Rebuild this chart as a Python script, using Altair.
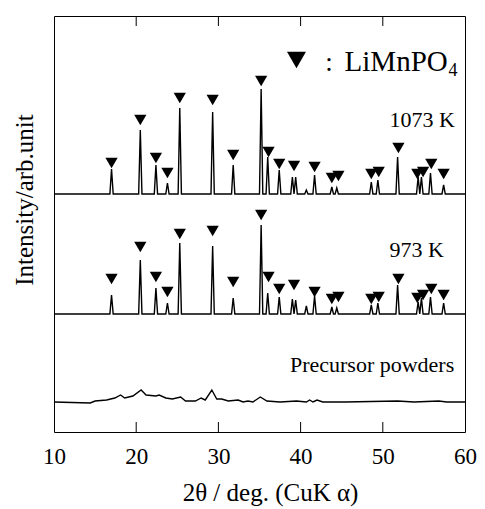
import altair as alt
import pandas as pd

# ---- data (intensity in arbitrary units) ----
x_ticks = [10, 20, 30, 40, 50, 60]
inner_ticks = [20, 30, 40, 50]

series_names = ["1073 K", "973 K", "Precursor powders"]
offsets = [238, 118, 30]

peak_pos = [17.0, 20.5, 22.4, 23.8, 25.3, 29.3, 31.8, 35.2, 36.0, 37.4, 39.0, 39.4,
            40.7, 41.7, 43.8, 44.4, 48.6, 49.4, 51.8, 54.3, 54.7, 55.8, 57.4]
h_1073 = [25, 64, 29, 11, 86, 82, 29, 105, 37, 24, 17, 17,
          4, 19, 7, 6, 12, 14, 37, 17, 17, 21, 9]
h_973 = [19, 54, 26, 11, 71, 68, 16, 89, 21, 17, 15, 14,
         8, 18, 7, 6, 9, 11, 29, 12, 16, 17, 11]

marker_pos = [17.0, 20.5, 22.4, 23.8, 25.3, 29.3, 31.8, 35.2, 36.1, 37.4, 39.2,
              41.7, 43.8, 44.6, 48.6, 49.5, 51.9, 54.2, 54.9, 55.9, 57.4]
m_1073 = [31, 74, 36, 21, 96, 94, 39, 113, 42, 30, 28,
          27, 16, 18, 20, 22, 46, 20, 22, 30, 20]
m_973 = [35, 67, 37, 22, 80, 83, 32, 99, 37, 25, 29,
         22, 15, 17, 15, 17, 35, 16, 19, 25, 19]

prec_x = [10.0, 14.4, 15.0, 16.4, 17.4, 18.1, 18.6, 19.6, 20.6, 21.2, 22.4, 22.8,
          23.6, 24.4, 25.4, 26.0, 27.2, 27.9, 28.4, 29.2, 29.8, 30.4, 31.2, 32.4,
          33.0, 33.6, 34.2, 35.1, 35.9, 37.5, 39.5, 40.7, 41.1, 41.5, 42.0, 42.7,
          45.4, 48.6, 51.8, 53.8, 56.8, 57.8, 60.0]
prec_h = [0, -1, 1, 2, 4, 7, 4, 6, 12, 7, 6, 7,
          4, 3, 5, 1, 1, 4, 2, 12, 3, 3, 1, 2,
          0, 1, 0, 5, 1, 0, 1, 0, 2, 0, 2, 0,
          0, 0.5, 1, 0, 1, 0, 0]

label_x = [50.8, 50.8, 38.7]
label_y = [305, 175, 60]

# ---- build tables ----
rows = []
for name, base, heights in [(series_names[0], offsets[0], h_1073),
                            (series_names[1], offsets[1], h_973)]:
    pts = [(10.0, 0.0), (60.0, 0.0)]
    for p, h in zip(peak_pos, heights):
        pts += [(p - 0.2, 0.0), (p, h), (p + 0.2, 0.0)]
    pts.sort()
    for i, (x, h) in enumerate(pts):
        rows.append({"series": name, "x": x, "y": base + h, "order": i})
for i, (x, h) in enumerate(zip(prec_x, prec_h)):
    rows.append({"series": series_names[2], "x": x, "y": offsets[2] + h, "order": i})
lines_df = pd.DataFrame(rows)

mrows = []
for base, levels in [(offsets[0], m_1073), (offsets[1], m_973)]:
    for x, m in zip(marker_pos, levels):
        mrows.append({"x": x, "y": base + m})
markers_df = pd.DataFrame(mrows)

labels_df = pd.DataFrame({"x": label_x, "y": label_y, "text": series_names})
ticks_df = pd.DataFrame({"x": inner_ticks})

FONT = "Liberation Serif"
xs = alt.Scale(domain=[10, 60], nice=False, zero=False)
ys = alt.Scale(domain=[0, 416], nice=False, zero=False)

lines = alt.Chart(lines_df).mark_line(color="black", strokeWidth=1.4, interpolate="linear").encode(
    x=alt.X("x:Q", scale=xs,
            axis=alt.Axis(values=x_ticks, title="2θ / deg. (CuK α)", grid=False,
                          ticks=False, tickSize=0, domain=False, labelFont=FONT,
                          labelFontSize=23, labelColor="black", labelPadding=13,
                          labelFlush=False, labelAlign="center",
                          titleFont=FONT, titleFontSize=25, titleFontWeight="normal",
                          titleColor="black", titleBaseline="alphabetic",
                          titleY=68, titleX=216, titleAlign="center")),
    y=alt.Y("y:Q", scale=ys, axis=None),
    detail="series:N",
    order="order:Q",
)

markers = alt.Chart(markers_df).mark_point(
    shape="triangle-down", filled=True, size=150, color="black", opacity=1
).encode(x=alt.X("x:Q", scale=xs), y=alt.Y("y:Q", scale=ys))

labels = alt.Chart(labels_df).mark_text(
    font=FONT, fontSize=22, align="left", baseline="alphabetic", color="black"
).encode(x=alt.X("x:Q", scale=xs), y=alt.Y("y:Q", scale=ys), text="text:N")

legend_sym = alt.Chart(pd.DataFrame({"x": [39.5], "y": [372]})).mark_point(
    shape="triangle-down", filled=True, size=360, color="black", opacity=1
).encode(x=alt.X("x:Q", scale=xs), y=alt.Y("y:Q", scale=ys))
legend_colon = alt.Chart(pd.DataFrame({"x": [43.0], "y": [361], "t": [":"]})).mark_text(
    font=FONT, fontSize=27, align="left", baseline="alphabetic", color="black"
).encode(x=alt.X("x:Q", scale=xs), y=alt.Y("y:Q", scale=ys), text="t:N")
legend_txt = alt.Chart(pd.DataFrame({"x": [57.9], "y": [361], "t": ["LiMnPO"]})).mark_text(
    font=FONT, fontSize=29, align="right", baseline="alphabetic", color="black"
).encode(x=alt.X("x:Q", scale=xs), y=alt.Y("y:Q", scale=ys), text="t:N")
legend_sub = alt.Chart(pd.DataFrame({"x": [58.0], "y": [356], "t": ["4"]})).mark_text(
    font=FONT, fontSize=18, align="left", baseline="alphabetic", color="black"
).encode(x=alt.X("x:Q", scale=xs), y=alt.Y("y:Q", scale=ys), text="t:N")

ticks_bottom = alt.Chart(ticks_df).mark_rule(color="black", strokeWidth=1).encode(
    x=alt.X("x:Q", scale=xs), y=alt.value(406), y2=alt.value(416))
ticks_top = alt.Chart(ticks_df).mark_rule(color="black", strokeWidth=1).encode(
    x=alt.X("x:Q", scale=xs), y=alt.value(0), y2=alt.value(10))

ytitle = alt.Chart(pd.DataFrame({"t": ["Intensity/arb.unit"]})).mark_text(
    font=FONT, fontSize=25, angle=270, align="center", baseline="middle", color="black"
).encode(x=alt.value(-29), y=alt.value(184), text="t:N")

chart = alt.layer(
    lines, markers, labels, legend_sym, legend_colon, legend_txt, legend_sub,
    ticks_bottom, ticks_top, ytitle
).properties(
    width=411, height=416,
    autosize=alt.AutoSizeParams(type="none"),
    padding={"left": 46, "top": 8, "right": 12, "bottom": 76},
    background="white",
).configure_view(stroke="black", strokeWidth=1)

chart.save("out.html", embed_options={"renderer": "svg", "actions": False})
